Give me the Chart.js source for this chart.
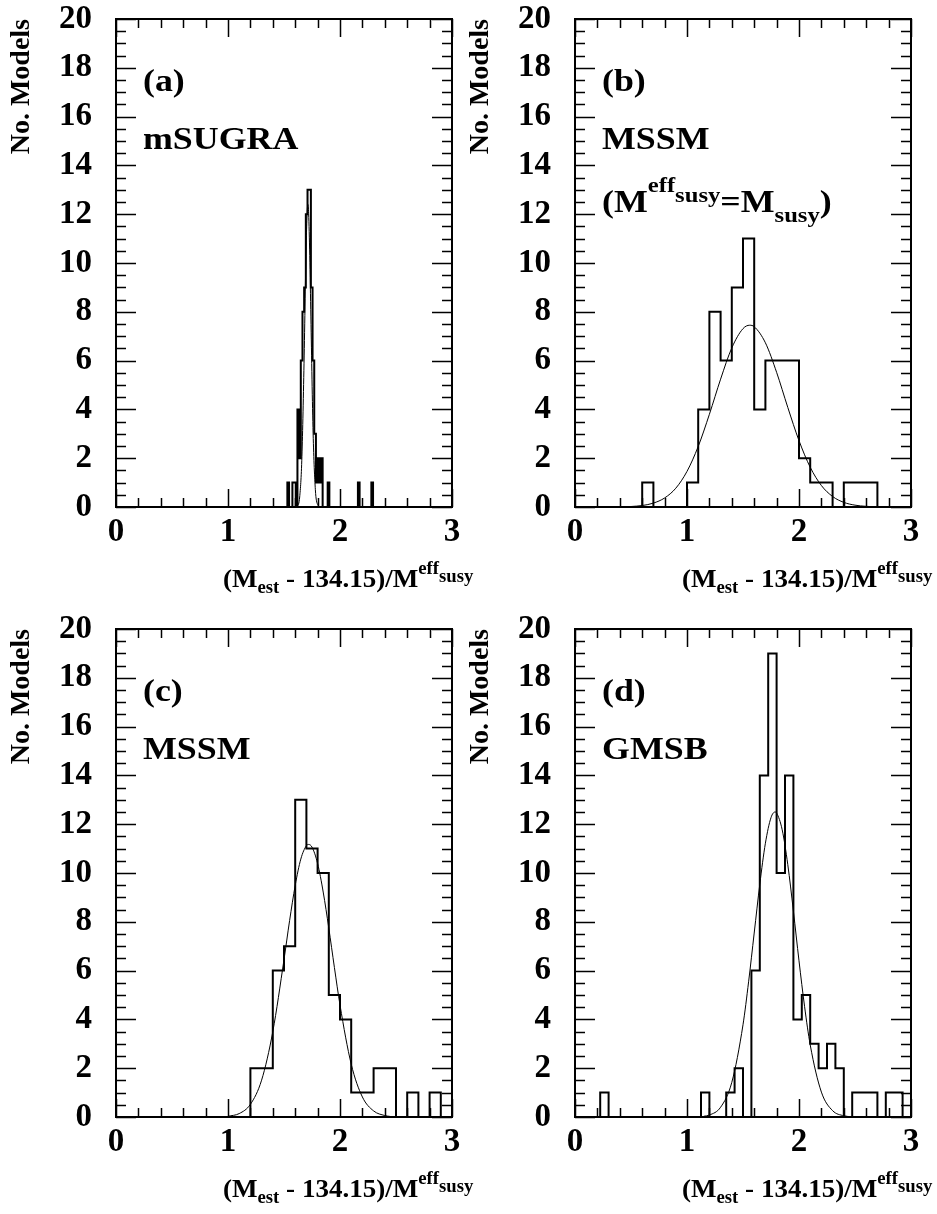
<!DOCTYPE html>
<html><head><meta charset="utf-8">
<script src="https://cdn.jsdelivr.net/npm/chart.js@4.4.1/dist/chart.umd.min.js"></script>
<style>
html,body{margin:0;padding:0;background:#fff;}
#wrap{position:relative;width:937px;height:1214px;overflow:hidden;background:#fff;}
canvas{position:absolute;}
</style></head><body>
<div id="wrap">
<canvas id="ca" width="478" height="610" style="left:0px;top:0px"></canvas>
<canvas id="cb" width="478" height="610" style="left:459px;top:0px"></canvas>
<canvas id="cc" width="478" height="604" style="left:0px;top:610px"></canvas>
<canvas id="cd" width="478" height="604" style="left:459px;top:610px"></canvas>
</div>
<script>
// ---------- data ----------
const xTicks = [0, 1, 2, 3];
const yTicks = [0, 2, 4, 6, 8, 10, 12, 14, 16, 18, 20];
const yTitle = 'No. Models';
const panelTags = ['(a)', '(b)', '(c)', '(d)'];
const panelNames = ['mSUGRA', 'MSSM', 'MSSM', 'GMSB'];

// (a) mSUGRA: narrow bins starting at 1.5
const aStart = 1.5;
const aWidth = 0.015;
const aCounts = [0,0,1,0,0,1,1,0,4,2,6,8,9,12,13,13,9,6,3,1,2,1,2,0,0,0,1,0,0,0,
                 0,0,0,0,0,0,0,0,0,0,0,0,0,0,1,0,0,0,0,0,0,0,1,0,0];
const aFitX = [1.60,1.62,1.64,1.66,1.68,1.69,1.70,1.713,1.72,1.73,1.74,1.76,1.78,1.80,1.82];
const aFitY = [0.00,0.05,0.41,2.07,6.19,8.85,11.13,12.4,12.02,10.31,7.79,3.03,0.71,0.10,0.01];

// (b) MSSM (Meff_susy = M_susy)
const bStart = 0;
const bWidth = 0.1;
const bCounts = [0,0,0,0,0,0,1,0,0,0,1,4,8,6,9,11,4,6,6,6,2,1,1,0,1,1,1,0,0,0];
const bFitX = [0.5,0.6,0.7,0.8,0.9,1.0,1.1,1.2,1.3,1.4,1.5,1.56,1.6,1.7,1.8,1.9,2.0,2.1,2.2,2.3,2.4,2.5,2.6,2.65];
const bFitY = [0.02,0.06,0.16,0.37,0.77,1.46,2.48,3.80,5.24,6.52,7.31,7.45,7.39,6.73,5.52,4.08,2.72,1.63,0.88,0.43,0.19,0.075,0.027,0.015];

// (c) MSSM
const cStart = 0;
const cWidth = 0.1;
const cCounts = [0,0,0,0,0,0,0,0,0,0,0,0,2,2,6,7,13,11,10,5,4,1,1,2,2,0,1,0,1,0];
const cFitX = [1.0,1.1,1.2,1.3,1.4,1.5,1.55,1.6,1.65,1.7,1.72,1.75,1.8,1.85,1.9,1.95,2.0,2.1,2.2,2.3,2.4,2.45];
const cFitY = [0.03,0.14,0.52,1.51,3.50,6.45,8.05,9.49,10.57,11.12,11.17,11.06,10.39,9.22,7.74,6.13,4.59,2.17,0.82,0.25,0.06,0.02];

// (d) GMSB
const dStart = 0;
const dWidth = 0.075;
const dCounts = [0,0,0,1,0,0,0,0,0,0,0,0,0,0,0,1,0,0,1,2,0,6,14,19,10,14,4,5,3,2,3,2,0,1,1,1,0,1,1,0];
const dFitX = [1.15,1.2,1.3,1.4,1.5,1.55,1.6,1.65,1.7,1.75,1.786,1.8,1.85,1.9,1.95,2.0,2.05,2.1,2.2,2.3,2.4,2.47];
const dFitY = [0.03,0.08,0.40,1.42,3.78,5.54,7.54,9.54,11.22,12.27,12.5,12.46,11.77,10.34,8.44,6.40,4.52,2.96,1.02,0.26,0.05,0.01];

// ---------- style ----------
const FONT = '"Liberation Serif", "Times New Roman", Times, serif';
const X_MINOR = 0.2, Y_MINOR = 0.5;

function histPoints(start, width, counts) {
  const pts = [{x: start, y: 0}];
  counts.forEach((c, i) => pts.push({x: start + i * width, y: c}));
  pts.push({x: start + counts.length * width, y: 0});
  return pts;
}
function fitPoints(xs, ys) { return xs.map((x, i) => ({x, y: ys[i]})); }

function drawRich(ctx, x, y, segs, sx) {
  ctx.save();
  ctx.translate(x, y);
  ctx.scale(sx, 1);
  ctx.fillStyle = '#000';
  ctx.textAlign = 'left';
  ctx.textBaseline = 'alphabetic';
  let cx = 0;
  for (const s of segs) {
    ctx.font = 'bold ' + s.size + 'px ' + FONT;
    ctx.fillText(s.t, cx, s.dy || 0);
    cx += ctx.measureText(s.t).width;
  }
  ctx.restore();
}

const xTitleSegs = [
  {t: '(M', size: 26}, {t: 'est', size: 18, dy: 6},
  {t: ' - 134.15)/M', size: 26}, {t: 'eff', size: 18, dy: -13},
  {t: 'susy', size: 18, dy: -5}
];

function makeFramePlugin(idx, extraLines) {
  return {
    id: 'rootFrame' + idx,
    afterDatasetsDraw(chart) {
      const ctx = chart.ctx;
      const a = chart.chartArea;
      const xs = chart.scales.x, ys = chart.scales.y;
      ctx.save();
      ctx.strokeStyle = '#000';
      ctx.lineWidth = 1.5;
      ctx.beginPath();
      for (let k = 0; k <= 15; k++) {
        const v = k * X_MINOR;
        const px = Math.round(xs.getPixelForValue(v)) + 0.5;
        const major = xTicks.some(t => Math.abs(t - v) < 1e-6);
        const len = major ? 18 : 9;
        ctx.moveTo(px, a.bottom); ctx.lineTo(px, a.bottom - len);
        ctx.moveTo(px, a.top); ctx.lineTo(px, a.top + len);
      }
      for (let k = 0; k <= 40; k++) {
        const v = k * Y_MINOR;
        const py = Math.round(ys.getPixelForValue(v)) + 0.5;
        const major = yTicks.some(t => Math.abs(t - v) < 1e-6);
        const len = major ? 20 : 10;
        ctx.moveTo(a.left, py); ctx.lineTo(a.left + len, py);
        ctx.moveTo(a.right, py); ctx.lineTo(a.right - len, py);
      }
      ctx.stroke();
      ctx.lineWidth = 2;
      ctx.strokeRect(a.left, a.top, a.right - a.left, a.bottom - a.top);
      ctx.restore();
      drawRich(ctx, a.left + 27, a.top + 72, [{t: panelTags[idx], size: 32}], 1.12);
      drawRich(ctx, a.left + 27, a.top + 130, [{t: panelNames[idx], size: 32}], 1.12);
      (extraLines || []).forEach(l => drawRich(ctx, a.left + 27, a.top + l.dy, l.segs, 1.12));
      drawRich(ctx, a.left + 107, a.bottom + 80, xTitleSegs, 1.04);
    }
  };
}

function makeChart(id, idx, hist, fit, extraLines) {
  const el = document.getElementById(id);
  const W = el.width, H = el.height;
  const top = 19, bottom = 507, left = 116, right = 452;
  return new Chart(el, {
    type: 'scatter',
    data: {
      datasets: [
        {data: hist, showLine: true, stepped: 'before', borderColor: '#000', borderWidth: 2,
         pointRadius: 0, fill: false},
        {data: fit, showLine: true, borderColor: '#000', borderWidth: 1, pointRadius: 0,
         cubicInterpolationMode: 'monotone', fill: false}
      ]
    },
    options: {
      responsive: false,
      animation: false,
      devicePixelRatio: 1,
      layout: {padding: {top: top, left: 0, right: W - right, bottom: 0}},
      plugins: {legend: {display: false}, tooltip: {enabled: false}, title: {display: false}},
      scales: {
        x: {
          type: 'linear', min: 0, max: 3,
          grid: {display: false, drawTicks: false},
          border: {display: false},
          afterBuildTicks: s => { s.ticks = xTicks.map(v => ({value: v})); },
          ticks: {color: '#000', padding: 6, maxRotation: 0, autoSkip: false,
                  font: {family: FONT, size: 33, weight: 'bold'},
                  callback: v => String(v)},
          afterFit: s => { s.height = H - bottom; s.paddingLeft = 0; s.paddingRight = 0; }
        },
        y: {
          type: 'linear', min: 0, max: 20,
          grid: {display: false, drawTicks: false},
          border: {display: false},
          afterBuildTicks: s => { s.ticks = yTicks.map(v => ({value: v})); },
          ticks: {color: '#000', padding: 24, autoSkip: false,
                  font: {family: FONT, size: 33, weight: 'bold'},
                  callback: v => String(v)},
          title: {display: true, text: yTitle, align: 'end', color: '#000',
                  font: {family: FONT, size: 28, weight: 'bold'}, padding: {top: 5, bottom: 0}},
          afterFit: s => { s.width = left; s.paddingTop = 0; s.paddingBottom = 0; }
        }
      }
    },
    plugins: [makeFramePlugin(idx, extraLines)]
  });
}

const bExtra = [{dy: 193, segs: [
  {t: '(M', size: 32}, {t: 'eff', size: 22, dy: -20}, {t: 'susy', size: 22, dy: -10},
  {t: '=M', size: 32}, {t: 'susy', size: 22, dy: 10}, {t: ')', size: 32}
]}];

makeChart('ca', 0, histPoints(aStart, aWidth, aCounts), fitPoints(aFitX, aFitY), null);
makeChart('cb', 1, histPoints(bStart, bWidth, bCounts), fitPoints(bFitX, bFitY), bExtra);
makeChart('cc', 2, histPoints(cStart, cWidth, cCounts), fitPoints(cFitX, cFitY), null);
makeChart('cd', 3, histPoints(dStart, dWidth, dCounts), fitPoints(dFitX, dFitY), null);
</script>
</body></html>
